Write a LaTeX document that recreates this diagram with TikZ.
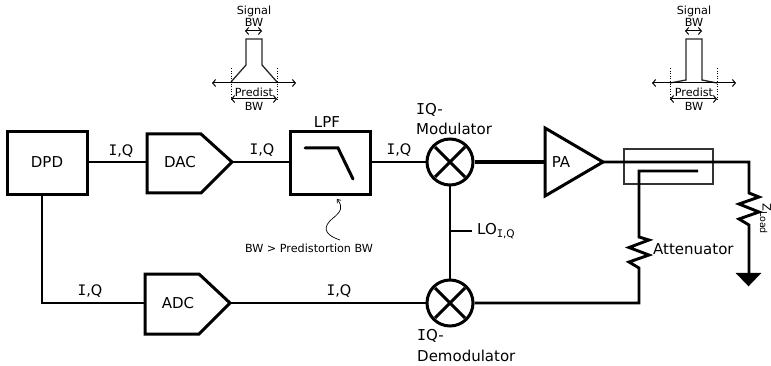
\documentclass[tikz,border=0pt]{standalone}
\usepackage{fontspec}
\setmainfont{DejaVu Sans}
\newfontfamily\monoi{DejaVu Sans Mono}
\usetikzlibrary{arrows.meta}
\newcommand{\Iser}{{\monoi I}}
\tikzset{
  wire/.style={line width=2.9pt,black},
  blockbox/.style={draw,line width=3pt,line join=miter},
  lab/.style={inner sep=0pt,font=\fontsize{15}{15}\selectfont},
  iqlab/.style={inner sep=0pt,font=\fontsize{14.5}{14.5}\selectfont},
  small/.style={inner sep=0pt,font=\fontsize{11.2}{11.2}\selectfont},
  thin arrow/.style={line width=1pt,{Straight Barb[length=3pt,width=7pt]}-{Straight Barb[length=3pt,width=7pt]}},
  mixer/.style={circle,draw,line width=3pt,minimum size=46pt,inner sep=0pt},
}
\begin{document}
\begin{tikzpicture}[x=1pt,y=-1pt]
\useasboundingbox (0,0) rectangle (771,366);
% blocks
\node[blockbox,minimum width=80pt,minimum height=63pt,inner sep=0pt] (dpd) at (47,163.5) {};
\node[lab] (dpdlab) at (47,162) {DPD};
\node[blockbox,minimum width=80pt,minimum height=63pt,inner sep=0pt] (lpf) at (330,163.5) {};
\coordinate (dacin) at (147,162);
\coordinate (dactip) at (232,162);
\coordinate (adcin) at (145,303);
\coordinate (adctip) at (230,303);
\draw[blockbox] (147,134) -- (201,134) -- (dactip) -- (201,193) -- (147,193) -- cycle;
\draw[blockbox] (145,274) -- (199,274) -- (adctip) -- (199,334) -- (145,334) -- cycle;
\node[lab] (daclab) at (180,162) {DAC};
\node[lab] (adclab) at (178,303) {ADC};
\node[mixer] (mod) at (450,162) {};
\node[mixer] (dem) at (450,303) {};
\draw[wire,line width=3pt] (mod.center)+(-15,-15) -- +(15,15) (mod.center)+(15,-15) -- +(-15,15);
\draw[wire,line width=3pt] (dem.center)+(-15,-15) -- +(15,15) (dem.center)+(15,-15) -- +(-15,15);
\draw[blockbox] (545,128) -- (603,162) -- (545,196) -- cycle;
\coordinate (patip) at (603,162);
\node[lab] (palab) at (561,162) {PA};
% filter curve
\draw[line width=3pt,line cap=round] (305,148) -- (338,148) -- (353,179);
\node[lab] (lpflab) at (327,122) {LPF};
% wires
\draw[wire] (dpd.east |- 0,162) -- (dacin);
\draw[wire] (dactip) -- (lpf.west |- 0,162);
\draw[wire] (lpf.east |- 0,162) -- (mod.west);
\draw[wire,line width=3.3pt] (mod.east) -- (545,162);
\draw[wire] (dpd.south -| 42,0) -- (42,303) -- (adcin);
\draw[wire] (adctip) -- (dem.west);
\draw[wire] (mod.south) -- (dem.north);
\coordinate (lostub) at (472,231);
\draw[wire] (450,231) -- (lostub);
\node[lab,anchor=west] (lolab) at (477,231) {LO\raisebox{-3.5pt}{\fontsize{10.5}{10.5}\selectfont \Iser,Q}};
% coupler
\draw[line width=1.4pt,black!80] (624,149) rectangle (713,184);
\coordinate (mainend) at (749,162);
\draw[wire,line join=miter] (patip) -- (mainend) -- (749,193) -- (759,197) -- (739,204) -- (759,212) -- (739,219) -- (749,225) -- (749,273);
\draw[black,fill=black] (736,273) -- (761,273) -- (748.5,286) -- cycle;
\draw[wire,line join=miter] (698,171) -- (639,171) -- (639,237) -- (649,240) -- (629,247.5) -- (649,255) -- (629,262) -- (639,268) -- (639,303) -- (dem.east |- 0,303);
\node[lab,anchor=west] (attlab) at (653,249) {Attenuator};
\node[rotate=-90,inner sep=0pt,anchor=base west,font=\fontsize{11.5}{11.5}\selectfont] (zlab) at (762.5,203) {Z\raisebox{-2.5pt}{\fontsize{9.5}{9.5}\selectfont Load}};
% labels
\node[iqlab] (iq1) at (121,151) {\Iser,Q};
\node[iqlab] (iq2) at (262,150) {\Iser,Q};
\node[iqlab] (iq3) at (399,150) {\Iser,Q};
\node[iqlab] (iq4) at (90,291) {\Iser,Q};
\node[iqlab] (iq5) at (339,291) {\Iser,Q};
\node[lab,anchor=west] (m1) at (416,110) {\Iser Q-};
\node[lab,anchor=west] (m2) at (416,129) {Modulator};
\node[lab,anchor=west] (d1) at (417,336) {\Iser Q-};
\node[lab,anchor=west] (d2) at (417,356) {Demodulator};
\node[small] (note) at (309,248) {BW > Predistortion BW};
\draw[line width=.7pt,-{Straight Barb[length=3pt,width=5pt]}] (340,240) .. controls (322,234) and (324,226) .. (332,219) .. controls (342,211) and (343,207) .. (337,199);
% spectrum 1
\node[small] (s1a) at (254,11) {Signal};
\node[small] (s1b) at (254,22) {BW};
\draw[thin arrow] (245,31) -- (262,31);
\draw[line width=1.3pt,black!85] (231,82) -- (246,65) -- (246,39) -- (262,39) -- (262,65) -- (277,82);
\draw[thin arrow] (212,83) -- (296,83);
\draw[line width=.6pt,dotted] (231,68) -- (231,100) (277,68) -- (277,100);
\node[small] (s1c) at (254,92) {Predist};
\draw[thin arrow] (231,99) -- (277,99);
\node[small] (s1d) at (254,106) {BW};
% spectrum 2
\node[small] (s2a) at (694,11) {Signal};
\node[small] (s2b) at (694,22) {BW};
\draw[thin arrow] (685,31) -- (702,31);
\draw[line width=1.3pt,black!85] (670,83) -- (686,80) -- (686,39) -- (702,39) -- (702,80) -- (717,83);
\draw[thin arrow] (652,83) -- (736,83);
\draw[line width=.6pt,dotted] (670,68) -- (670,100) (717,68) -- (717,100);
\node[small] (s2c) at (694,92) {Predist};
\draw[thin arrow] (670,99) -- (717,99);
\node[small] (s2d) at (694,106) {BW};
\end{tikzpicture}
\end{document}
